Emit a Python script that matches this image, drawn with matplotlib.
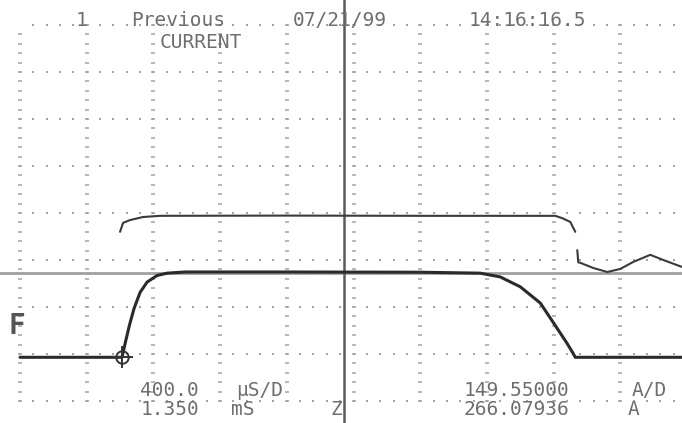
import numpy as np
import matplotlib
matplotlib.use("Agg")
import matplotlib.pyplot as plt

# ---- data (screen divisions: 400 uS/D horizontally, 149.55 A/D vertically) ----
upper_t = [1.50, 1.545, 1.65, 1.845, 2.10, 4.0, 6.0, 8.025, 8.13, 8.25, 8.325]
upper_v = [3.60, 3.79, 3.85, 3.915, 3.94, 3.945, 3.94, 3.94, 3.89, 3.81, 3.60]

tail_t = [8.355, 8.37, 8.40, 8.595, 8.805, 9.0, 9.195, 9.45, 9.645, 9.93]
tail_v = [3.21, 2.95, 2.94, 2.83, 2.745, 2.81, 2.96, 3.11, 3.00, 2.85]

current_t = [0.0, 1.53, 1.58, 1.64, 1.71, 1.80, 1.905, 2.055, 2.205, 2.475,
             4.0, 6.0, 6.9, 7.2, 7.5, 7.8, 8.0, 8.2, 8.29, 8.325, 9.93]
current_v = [0.93, 0.93, 1.25, 1.61, 1.97, 2.31, 2.53, 2.67, 2.72, 2.745,
             2.745, 2.74, 2.72, 2.64, 2.43, 2.085, 1.66, 1.23, 1.02, 0.93, 0.93]

cursor_t = 1.53
cursor_v = 0.93
ref_level = 2.72      # horizontal reference line
time_ref = 4.86       # vertical reference line

n_hdiv = 10
n_vdiv = 8

title_words = ["1", "Previous", "07/21/99", "14:16:16.5"]
subtitle = "CURRENT"
bottom_row1 = ["400.0", "µS/D", "149.55000", "A/D"]
bottom_row2 = ["1.350", "mS", "Z", "266.07936", "A"]

# ---- figure ----
W, H = 682, 423
fig = plt.figure(figsize=(W / 100, H / 100), dpi=100)
ax = fig.add_axes([0, 0, 1, 1])
ax.set_xlim(-0.3, 9.925)
ax.set_ylim(-0.468, 8.532)
ax.axis("off")

grid_c = "#a3a3a3"
# dotted graticule
for i in range(n_hdiv + 1):
    ys = np.arange(0, n_vdiv + 0.001, 0.2)
    if i == 0:
        ys = ys[ys < 7.85]
    ax.plot(np.full_like(ys, i), ys, ls="none", marker="_", ms=3.2, mew=1.1,
            color=grid_c, zorder=1)
for j in range(n_vdiv + 1):
    xs = np.arange(0, n_hdiv + 0.001, 0.2)
    if j == n_vdiv:
        xs = xs[xs > 0.15]
    ax.plot(xs, np.full_like(xs, j), ls="none", marker="s", ms=1.5,
            color=grid_c, mew=0, zorder=1)

# reference lines
ax.axhline(ref_level, color="#a0a0a0", lw=2.0, zorder=2)
ax.axvline(time_ref, color="#5a5a5a", lw=1.8, zorder=2)

# traces
ax.plot(upper_t, upper_v, color="#3a3a3a", lw=1.5, zorder=4,
        solid_capstyle="round", solid_joinstyle="round")
ax.plot(tail_t, tail_v, color="#3a3a3a", lw=1.5, zorder=4,
        solid_capstyle="round", solid_joinstyle="round")
ax.plot(current_t, current_v, color="#2a2a2a", lw=2.2, zorder=5,
        solid_capstyle="round", solid_joinstyle="round")

# cursor marker
ax.plot([cursor_t], [cursor_v], marker="o", ms=9, mfc="none", mec="#333333",
        mew=1.4, zorder=6)
ax.plot([cursor_t], [cursor_v], marker="+", ms=16, mec="#333333", mew=1.4,
        zorder=6)

# ---- text ----
txt_c = "#6e6e6e"
fkw = dict(family="DejaVu Sans Mono", color=txt_c, fontsize=14,
           ha="center", va="center", transform=ax.transAxes, zorder=7)


def put(px, py, s, **kw):
    d = dict(fkw)
    d.update(kw)
    ax.text(px / W, 1 - py / H, s, **d)


for s, px in zip(title_words, [82, 178, 340, 527]):
    put(px, 20, s)
put(201, 42, subtitle)
for s, px in zip(bottom_row1, [169, 260, 516, 649]):
    put(px, 390, s)
for s, px in zip(bottom_row2, [170, 243, 336, 516, 634]):
    put(px, 409, s)

# ground marker
put(17, 326, "F", fontsize=20, fontweight="bold", color="#555555")

fig.savefig("out.png", dpi=100)
